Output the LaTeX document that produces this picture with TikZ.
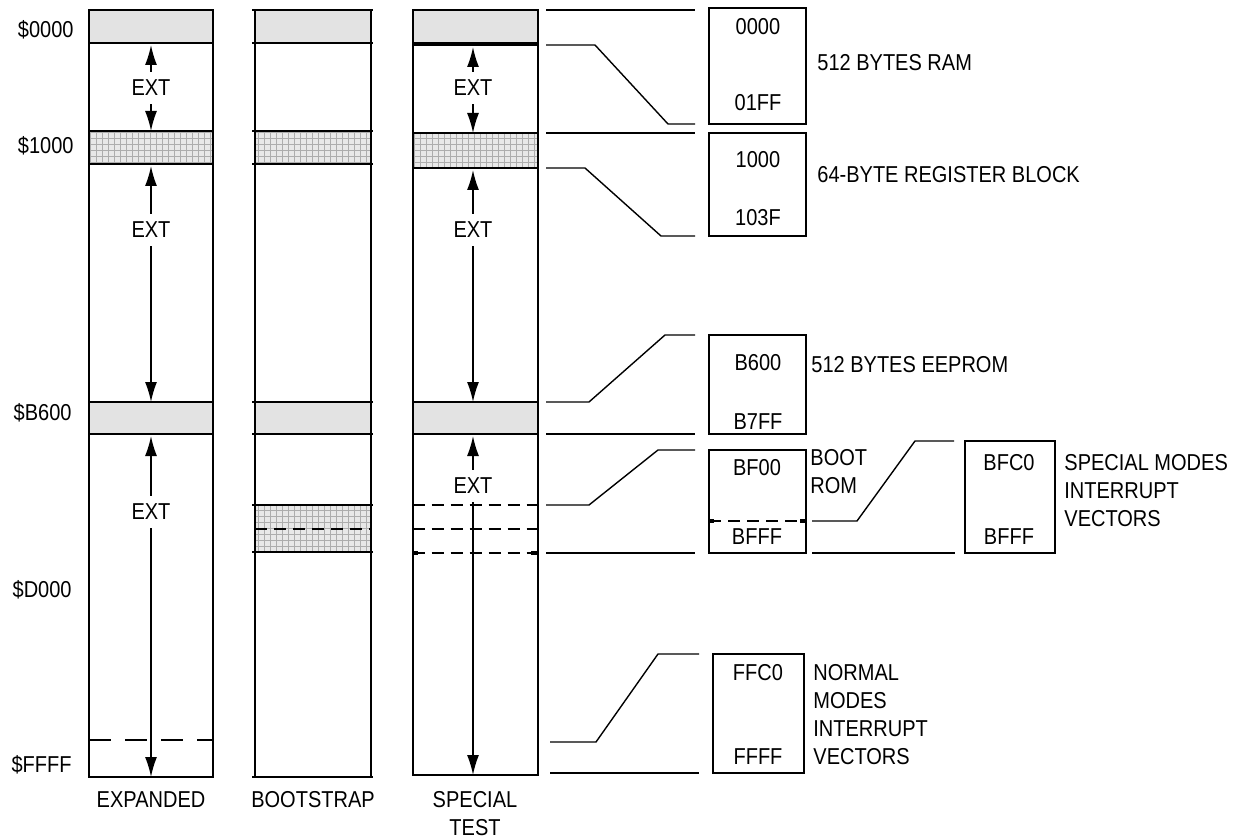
\documentclass[tikz,border=0pt]{standalone}
\usepackage{fontspec}
\setmainfont[FakeStretch=0.87]{Liberation Sans}
\usetikzlibrary{arrows.meta,patterns}
\begin{document}
\begin{tikzpicture}[x=0.5pt,y=-0.5pt,
  every node/.style={font=\fontsize{11.5}{14}\selectfont, inner sep=0pt},
  box/.style={line width=1pt},
  thinl/.style={line width=0.7pt},
  rbox/.style={line width=0.9pt},
  band/.style={fill=black!11},
  hatch/.style={preaction={fill=black!9}, pattern=grid, pattern color=black!32},
  ext/.style={inner xsep=0pt, inner ysep=4pt},
  arr/.style={line width=0.8pt, -{Latex[length=10pt,width=6pt]}},
  dshA/.style={line width=0.8pt, dash pattern=on 11pt off 7pt},
  dshB/.style={line width=0.8pt, dash pattern=on 6pt off 3.5pt}
]
\useasboundingbox (0,0) rectangle (1244,840);

% ---------- column 1: EXPANDED ----------
\fill[band] (89,10) rectangle (212.5,43);
\fill[hatch] (89,131) rectangle (212.5,164);
\fill[band] (89,402) rectangle (212.5,434);
\draw[box] (89,10) rectangle (212.5,777);
\foreach \yy in {43,131,164,402,434} \draw[box] (89,\yy) -- (212.5,\yy);
\draw[dshA] (89,740) -- (212.5,740);

% ---------- column 2: BOOTSTRAP ----------
\fill[band] (255,10) rectangle (371,43);
\fill[hatch] (255,131) rectangle (371,164);
\fill[band] (255,402) rectangle (371,434);
\fill[hatch] (255,505) rectangle (371,552);
\draw[box] (255,10) -- (255,777);
\draw[box] (371,10) -- (371,777);
\foreach \yy in {10,43,131,164,402,434,505,552,777} \draw[box] (252,\yy) -- (373,\yy);
\draw[dshB] (255,529) -- (371,529);

% ---------- column 3: SPECIAL TEST ----------
\fill[band] (412.5,10) rectangle (537.5,43);
\fill[hatch] (412.5,133) rectangle (537.5,168);
\fill[band] (412.5,402) rectangle (537.5,434);
\draw[box] (412.5,10) rectangle (537.5,775);
\draw[line width=2pt] (412.5,44.5) -- (537.5,44.5);
\foreach \yy in {133,168,402,434} \draw[box] (412.5,\yy) -- (537.5,\yy);
\foreach \yy in {505,529,553} \draw[dshB] (412.5,\yy) -- (537.5,\yy);
\draw[line width=2pt] (412.5,553) -- (418,553);
\draw[line width=2pt] (531,553) -- (537.5,553);

% ---------- address labels ----------
\node[anchor=east] (a0) at (74,30) {\$0000};
\node[anchor=east] (a1) at (74,146) {\$1000};
\node[anchor=east] (a2) at (72,413) {\$B600};
\node[anchor=east] (a3) at (72,590) {\$D000};
\node[anchor=east] (a4) at (72,765) {\$FFFF};

% ---------- EXT arrows, column 1 ----------
\node[ext] (e11) at (151,88) {EXT};
\node[ext] (e12) at (151,230) {EXT};
\node[ext] (e13) at (151,512) {EXT};
\coordinate (u11) at (151,45);  \coordinate (d11) at (151,131);
\coordinate (u12) at (151,166); \coordinate (d12) at (151,402);
\coordinate (u13) at (151,436); \coordinate (d13) at (151,777);
\draw[arr] (e11.north) -- (u11);
\draw[arr] (e11.south) -- (d11);
\draw[arr] (e12.north) -- (u12);
\draw[arr] (e12.south) -- (d12);
\draw[arr] (e13.north) -- (u13);
\draw[arr] (e13.south) -- (d13);

% ---------- EXT arrows, column 3 ----------
\node[ext] (e31) at (473,88) {EXT};
\node[ext] (e32) at (473,230) {EXT};
\node[ext] (e33) at (473,486) {EXT};
\coordinate (u31) at (473,47);  \coordinate (d31) at (473,133);
\coordinate (u32) at (473,170); \coordinate (d32) at (473,402);
\coordinate (u33) at (473,436); \coordinate (d33) at (473,775);
\draw[arr] (e31.north) -- (u31);
\draw[arr] (e31.south) -- (d31);
\draw[arr] (e32.north) -- (u32);
\draw[arr] (e32.south) -- (d32);
\draw[arr] (e33.north) -- (u33);
\draw[arr] (e33.south) -- (d33);

% ---------- column titles ----------
\node (t1) at (151,800) {EXPANDED};
\node (t2) at (313,800) {BOOTSTRAP};
\node[align=center] (t3) at (475,814) {SPECIAL\\TEST};

% ---------- RAM ----------
\draw[thinl] (546,10) -- (695,10);
\draw[thinl] (546,45) -- (595,45) -- (668,124) -- (695,124);
\draw[rbox] (709,8) rectangle (806,124);
\node (r0) at (758,27) {0000};
\node (r1) at (758,103) {01FF};
\node[anchor=west] (rl) at (817,63) {512 BYTES RAM};

% ---------- register block ----------
\draw[thinl] (546,133) -- (695,133);
\draw[thinl] (546,168) -- (585,168) -- (661,236) -- (695,236);
\draw[rbox] (709,133) rectangle (806,236);
\node (g0) at (758,160) {1000};
\node (g1) at (758,218) {103F};
\node[anchor=west] (gl) at (817,175) {64-BYTE REGISTER BLOCK};

% ---------- EEPROM ----------
\draw[thinl] (546,402) -- (589,402) -- (665,335) -- (695,335);
\draw[thinl] (546,434) -- (695,434);
\draw[rbox] (709,335) rectangle (806,434);
\node (p0) at (758,363) {B600};
\node (p1) at (758,422) {B7FF};
\node[anchor=west] (pl) at (811,365) {512 BYTES EEPROM};

% ---------- boot ROM ----------
\draw[thinl] (546,505) -- (589,505) -- (658,450) -- (695,450);
\draw[thinl] (546,553) -- (695,553);
\draw[rbox] (709,450) rectangle (806,553);
\draw[dshB] (709,521) -- (806,521);
\draw[line width=2pt] (709,521) -- (714,521);
\draw[line width=2pt] (800,521) -- (806,521);
\node (b0) at (757,468) {BF00};
\node (b1) at (757,537) {BFFF};
\node[anchor=west, align=left] (bl) at (810,472) {BOOT\\ROM};

% ---------- special modes vectors ----------
\draw[thinl] (812,521) -- (857,521) -- (915,441) -- (954,441);
\draw[thinl] (812,553) -- (955,553);
\draw[rbox] (965,441) rectangle (1055,553);
\node (s0) at (1009,463) {BFC0};
\node (s1) at (1009,537) {BFFF};
\node[anchor=west, align=left] (sl) at (1064,491) {SPECIAL MODES\\INTERRUPT\\VECTORS};

% ---------- normal modes vectors ----------
\draw[thinl] (550,742) -- (596,742) -- (658,654) -- (699,654);
\draw[thinl] (550,773) -- (699,773);
\draw[rbox] (713,654) rectangle (804,773);
\node (n0) at (758,673) {FFC0};
\node (n1) at (758,757) {FFFF};
\node[anchor=west, align=left] (nl) at (813,715) {NORMAL\\MODES\\INTERRUPT\\VECTORS};
\end{tikzpicture}
\end{document}
